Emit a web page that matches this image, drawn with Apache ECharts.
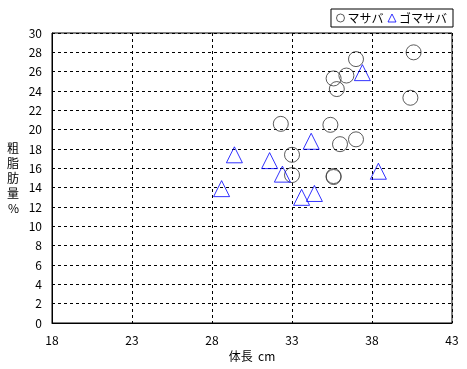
<!DOCTYPE html>
<html><head><meta charset="utf-8">
<script src="https://cdn.jsdelivr.net/npm/echarts@6/dist/echarts.min.js"></script>
<style>html,body{margin:0;padding:0;background:#fff}#c{width:467px;height:369px}</style>
</head><body><div id="c"></div>
<script>
const xTicks = [18, 23, 28, 33, 38, 43];
const yTicks = [0, 2, 4, 6, 8, 10, 12, 14, 16, 18, 20, 22, 24, 26, 28, 30];
const masabaLen = [40.6, 37.0, 36.4, 35.6, 35.8, 40.4, 32.3, 35.4, 37.0, 36.0, 33.0, 33.0, 35.6, 35.6];
const masabaFat = [28.0, 27.3, 25.6, 25.3, 24.2, 23.3, 20.6, 20.5, 19.0, 18.5, 17.4, 15.3, 15.1, 15.2];
const gomaLen = [37.4, 34.2, 29.4, 31.6, 32.4, 38.4, 28.6, 33.6, 34.4];
const gomaFat = [25.9, 18.8, 17.4, 16.8, 15.4, 15.7, 13.9, 13.0, 13.4];

const font = "'Noto Sans CJK JP', 'DejaVu Sans', sans-serif";
const chart = echarts.init(document.getElementById('c'));
chart.setOption({
  animation: false,
  backgroundColor: '#fff',
  textStyle: { fontFamily: font },
  grid: { left: 52, right: 15, top: 33, bottom: 46, show: true, borderColor: '#000', borderWidth: 1, backgroundColor: 'transparent' },
  legend: {
    right: 14, top: 9, orient: 'horizontal',
    borderColor: '#000', borderWidth: 1, padding: [3, 6, 3, 5],
    itemWidth: 8, itemHeight: 8, itemGap: 4,
    textStyle: { fontSize: 12, color: '#000', fontFamily: font, padding: [0, 0, 0, -2] },
    data: [
      { name: 'マサバ', icon: 'circle', itemStyle: { color: 'transparent', borderColor: '#333', borderWidth: 1 } },
      { name: 'ゴマサバ', icon: 'triangle', itemStyle: { color: 'transparent', borderColor: '#0000ff', borderWidth: 1 } }
    ]
  },
  xAxis: {
    type: 'value', min: 18, max: 43, interval: 5,
    name: '体長  cm', nameLocation: 'middle', nameGap: 24,
    nameTextStyle: { fontSize: 12, color: '#000', fontFamily: font },
    axisLine: { show: true, lineStyle: { color: '#000' } },
    axisTick: { show: false },
    axisLabel: { color: '#000', fontSize: 12, margin: 11, fontFamily: font, showMaxLabel: true, showMinLabel: true },
    splitLine: { show: true, lineStyle: { color: '#000', type: [3, 3], width: 1 } }
  },
  yAxis: {
    type: 'value', min: 0, max: 30, interval: 2,
    name: '粗\n脂\n肪\n量\n%', nameLocation: 'middle', nameRotate: 0, nameGap: 33,
    nameTextStyle: { fontSize: 12, color: '#000', lineHeight: 15, fontFamily: font, padding: [0, 0, 10, 0] },
    axisLine: { show: true, lineStyle: { color: '#000' } },
    axisTick: { show: false },
    axisLabel: { color: '#000', fontSize: 12, margin: 10, fontFamily: font },
    splitLine: { show: true, lineStyle: { color: '#000', type: [3, 3], width: 1 } }
  },
  series: [
    {
      name: 'マサバ', type: 'scatter', symbol: 'circle', symbolSize: 15,
      itemStyle: { color: 'transparent', borderColor: '#333', borderWidth: 1 },
      data: masabaLen.map((v, i) => [v, masabaFat[i]])
    },
    {
      name: 'ゴマサバ', type: 'scatter', symbol: 'triangle', symbolSize: [16, 16],
      itemStyle: { color: 'transparent', borderColor: '#0000ff', borderWidth: 1 },
      data: gomaLen.map((v, i) => [v, gomaFat[i]])
    }
  ]
});
</script></body></html>
